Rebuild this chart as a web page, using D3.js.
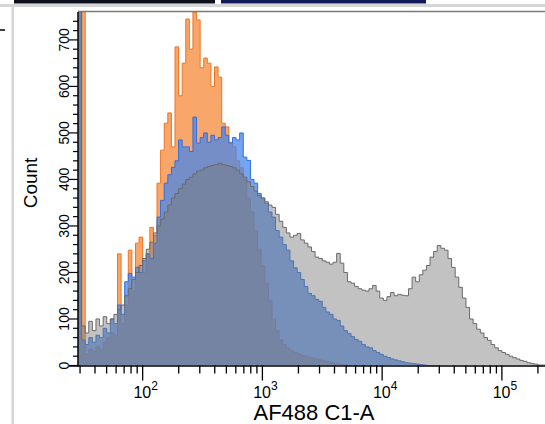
<!DOCTYPE html>
<html>
<head>
<meta charset="utf-8">
<script src="https://cdn.jsdelivr.net/npm/d3@7"></script>
<style>
  html, body { margin: 0; padding: 0; background: #fff; }
  svg { display: block; font-family: "Liberation Sans", Arial, sans-serif; }
</style>
</head>
<body>
<svg id="chart" width="545" height="424"></svg>
<script>
// -- DATA --
// channel bins: log10 start and width of each bin
const binStart = 1.46;
const binStep = 0.03;

const orangeCounts = [
  1200, 1200, 25, 35, 30, 40, 35, 50, 60, 70,
  65, 240, 90, 130, 248, 160, 263, 276, 200, 240,
  297, 280, 392, 463, 521, 543, 470, 685, 580, 650,
  745, 680, 760, 743, 640, 661, 650, 600, 642, 620,
  521, 513, 480, 470, 440, 425, 400, 360, 330, 290,
  250, 215, 177, 140, 100, 75, 55, 45, 38, 32,
  28, 25, 22, 20, 18, 16, 14, 12, 10, 8,
  6, 5, 3, 2, 1, 0, 0, 0, 0, 0
];
const blueCounts = [
  1200, 55, 45, 60, 50, 65, 60, 80, 70, 100,
  90, 130, 110, 180, 198, 190, 211, 200, 226, 240,
  230, 263, 319, 355, 392, 410, 426, 440, 485, 470,
  470, 460, 534, 478, 490, 500, 480, 495, 485, 490,
  513, 495, 478, 490, 485, 500, 448, 441, 400, 392,
  370, 360, 349, 330, 319, 290, 276, 260, 248, 225,
  210, 200, 185, 170, 155, 150, 142, 138, 125, 115,
  110, 100, 97, 85, 75, 69, 62, 56, 52, 45,
  40, 38, 32, 28, 24, 20, 17, 14, 12, 10,
  8, 6, 5, 4, 3, 2, 1, 0, 0, 0
];
const grayCounts = [
  1200, 85, 70, 95, 75, 100, 85, 105, 90, 100,
  110, 120, 130, 150, 165, 185, 200, 215, 230, 250,
  265, 285, 300, 315, 330, 345, 360, 370, 380, 390,
  400, 405, 412, 418, 420, 425, 428, 430, 432, 435,
  432, 430, 428, 425, 420, 412, 405, 395, 385, 375,
  365, 360, 352, 345, 340, 325, 310, 297, 285, 276,
  280, 284, 270, 263, 255, 245, 233, 230, 225, 222,
  218, 222, 241, 220, 200, 180, 177, 170, 165, 162,
  160, 165, 172, 160, 145, 140, 148, 157, 150, 153,
  151, 150, 165, 190, 180, 195, 205, 215, 233, 245,
  258, 252, 248, 230, 211, 190, 168, 145, 125, 100,
  90, 78, 70, 60, 54, 45, 38, 32, 28, 24,
  20, 17, 14, 11, 9, 6, 4, 3, 1, 1, 0
];

const yMajor = [0, 100, 200, 300, 400, 500, 600, 700];
const yMinor = [20, 40, 60, 80, 120, 140, 160, 180, 220, 240, 260, 280, 320, 340, 360, 380,
  420, 440, 460, 480, 520, 540, 560, 580, 620, 640, 660, 680, 720, 740];
const xMajor = [100, 1000, 10000, 100000];
const xExp = ["2", "3", "4", "5"];
const xMinor = [30, 40, 50, 60, 70, 80, 90, 200, 300, 400, 500, 600, 700, 800, 900,
  2000, 3000, 4000, 5000, 6000, 7000, 8000, 9000,
  20000, 30000, 40000, 50000, 60000, 70000, 80000, 90000, 200000];

const xTitle = "AF488 C1-A";
const yTitle = "Count";

// -- LAYOUT --
const pLeft = 78, pRight = 552, pTop = 12, pBottom = 365.5;
const svg = d3.select("#chart");

const x = d3.scaleLog().domain([Math.pow(10, 1.46), 262144]).range([pLeft, pRight]);
const y = d3.scaleLinear().domain([0, 760]).range([pBottom, pTop]);

// -- window chrome --
svg.append("rect").attr("x", 0).attr("y", 0).attr("width", 545).attr("height", 424).attr("fill", "#fff");
svg.append("rect").attr("x", 14).attr("y", 0).attr("width", 201).attr("height", 3.5).attr("fill", "#0d101c");
svg.append("rect").attr("x", 221).attr("y", 0).attr("width", 205).attr("height", 3.5).attr("fill", "#101a58");
svg.append("rect").attr("x", 0).attr("y", 4).attr("width", 545).attr("height", 3).attr("fill", "#d6d6d6");
svg.append("rect").attr("x", 11.5).attr("y", 4).attr("width", 2.5).attr("height", 420).attr("fill", "#d6d6d6");
svg.append("line").attr("x1", 0).attr("x2", 5).attr("y1", 30).attr("y2", 30)
  .attr("stroke", "#000").attr("stroke-width", 1.5);

// -- HISTOGRAMS --
svg.append("clipPath").attr("id", "plotclip")
  .append("rect").attr("x", pLeft).attr("y", pTop).attr("width", pRight - pLeft).attr("height", pBottom - pTop);

const plot = svg.append("g").attr("clip-path", "url(#plotclip)");

function toSteps(counts) {
  let pts = counts.map((c, i) => ({ e: Math.pow(10, binStart + i * binStep), c: c }));
  pts.push({ e: Math.pow(10, binStart + counts.length * binStep), c: 0 });
  return pts;
}

const area = d3.area()
  .x(d => x(d.e))
  .y0(pBottom)
  .y1(d => y(d.c))
  .curve(d3.curveStepAfter);
const line = d3.line()
  .x(d => x(d.e))
  .y(d => y(d.c))
  .curve(d3.curveStepAfter);

const series = [
  { name: "orange", data: orangeCounts, fill: "#f9a66a", op: 1, stroke: "#f07420" },
  { name: "blue", data: blueCounts, fill: "#4a86e8", op: 0.75, stroke: "#2e6fe0" },
  { name: "gray", data: grayCounts, fill: "#777777", op: 0.45, stroke: "#6a6a6a" }
];

series.forEach(s => {
  let pts = toSteps(s.data);
  plot.append("path").attr("d", area(pts))
    .attr("fill", s.fill).attr("fill-opacity", s.op);
  plot.append("path").attr("d", line(pts))
    .attr("fill", "none").attr("stroke", s.stroke).attr("stroke-width", 1);
});

// frame top
svg.append("line").attr("x1", pLeft).attr("x2", 545).attr("y1", 11.5).attr("y2", 11.5)
  .attr("stroke", "#7a7a7a").attr("stroke-width", 1.5);

// -- AXES --
// y axis
svg.append("line").attr("x1", pLeft).attr("x2", pLeft).attr("y1", pTop).attr("y2", pBottom + 1)
  .attr("stroke", "#000").attr("stroke-width", 1.5);
svg.selectAll(".ymaj").data(yMajor).enter().append("line")
  .attr("x1", pLeft - 9).attr("x2", pLeft).attr("y1", d => y(d)).attr("y2", d => y(d))
  .attr("stroke", "#000").attr("stroke-width", 1.2);
svg.selectAll(".ymin").data(yMinor).enter().append("line")
  .attr("x1", pLeft - 5).attr("x2", pLeft).attr("y1", d => y(d)).attr("y2", d => y(d))
  .attr("stroke", "#000").attr("stroke-width", 1.2);
svg.selectAll(".ylab").data(yMajor).enter().append("text")
  .attr("transform", d => "translate(" + 69 + "," + y(d) + ") rotate(-90)")
  .attr("text-anchor", "middle")
  .attr("font-size", 14)
  .text(d => d);

svg.append("text")
  .attr("transform", "translate(37," + 183 + ") rotate(-90)")
  .attr("text-anchor", "middle")
  .attr("font-size", 19)
  .text(yTitle);

// x axis
svg.append("line").attr("x1", pLeft - 9).attr("x2", 545).attr("y1", pBottom + 0.5).attr("y2", pBottom + 0.5)
  .attr("stroke", "#000").attr("stroke-width", 1.5);
svg.selectAll(".xmaj").data(xMajor).enter().append("line")
  .attr("x1", d => x(d)).attr("x2", d => x(d)).attr("y1", pBottom).attr("y2", pBottom + 15)
  .attr("stroke", "#000").attr("stroke-width", 1.3);
svg.selectAll(".xmin").data(xMinor).enter().append("line")
  .attr("x1", d => x(d)).attr("x2", d => x(d)).attr("y1", pBottom).attr("y2", pBottom + 8)
  .attr("stroke", "#000").attr("stroke-width", 1.3);

let xl = svg.selectAll(".xlab").data(xMajor).enter().append("text")
  .attr("x", d => x(d) + 3)
  .attr("y", 398)
  .attr("text-anchor", "middle")
  .attr("font-size", 16);
xl.append("tspan").text("10");
xl.append("tspan").attr("dy", -8).attr("font-size", 12).text((d, i) => xExp[i]);

svg.append("text")
  .attr("x", 314).attr("y", 420)
  .attr("text-anchor", "middle")
  .attr("font-size", 22)
  .text(xTitle);
</script>
</body>
</html>
